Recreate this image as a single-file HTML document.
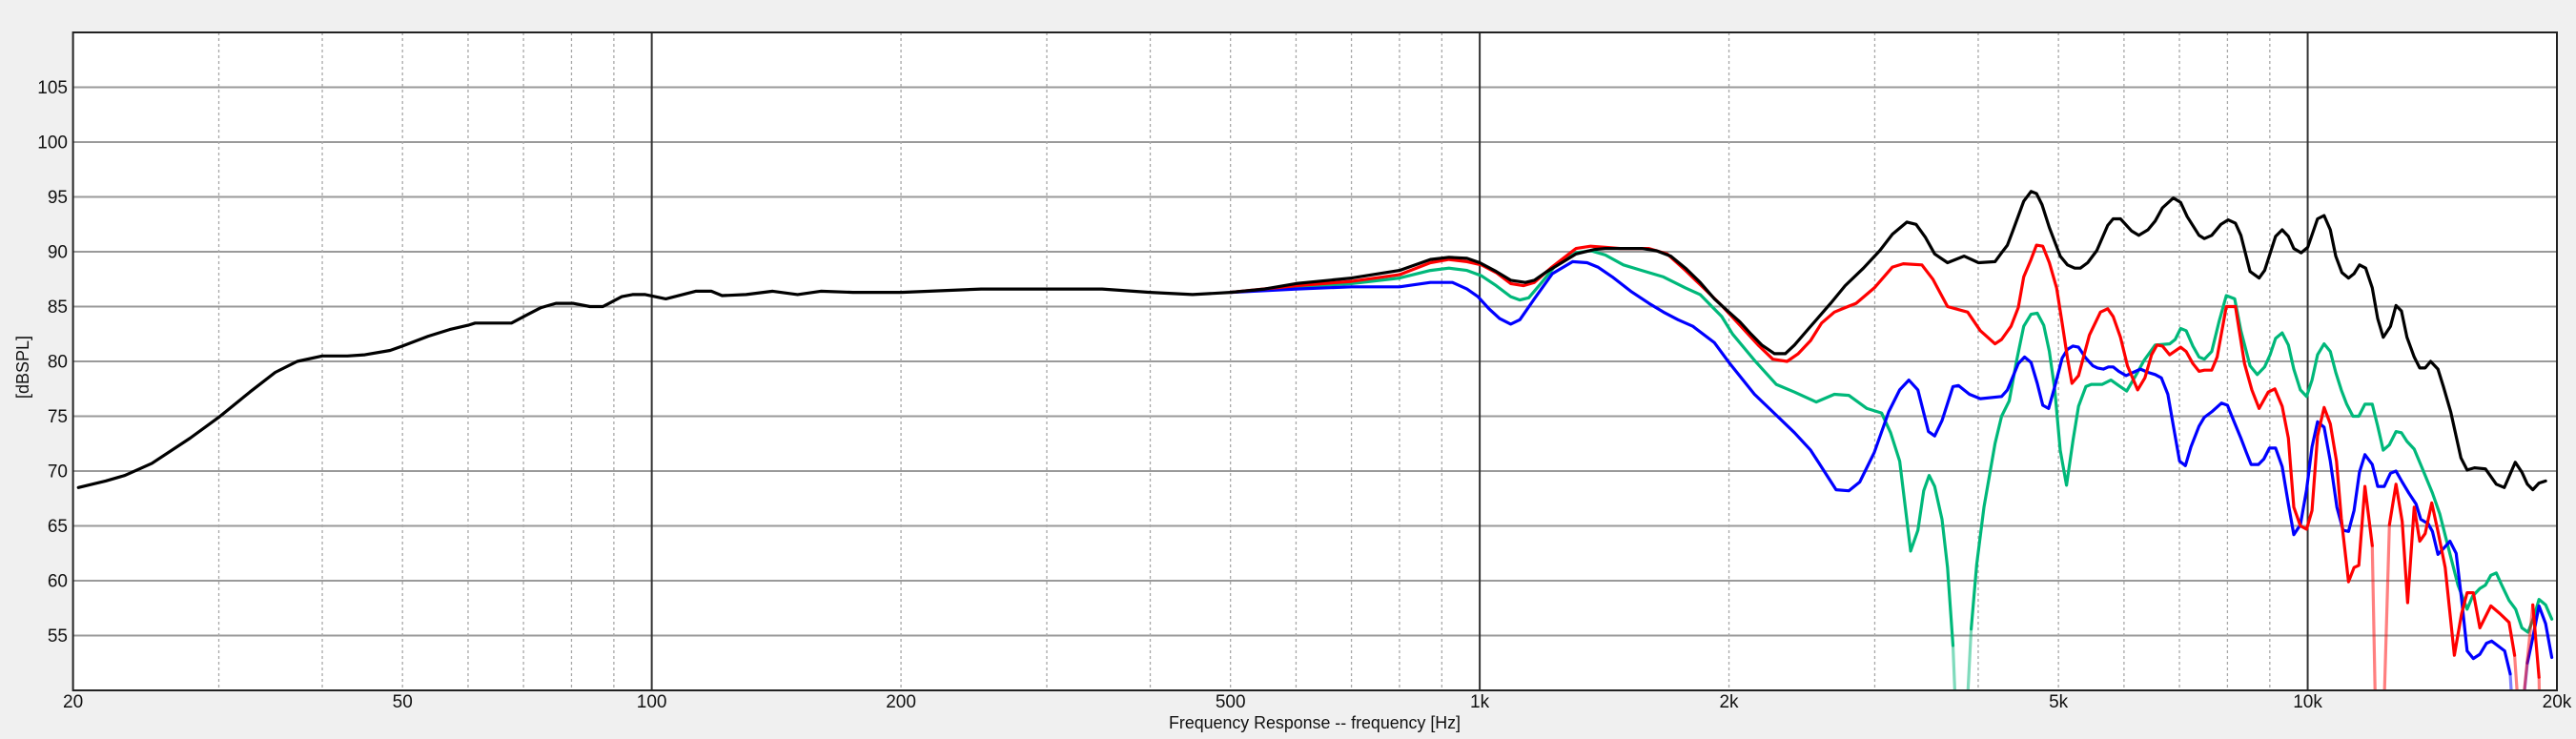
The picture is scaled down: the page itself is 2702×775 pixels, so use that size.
<!DOCTYPE html>
<html><head><meta charset="utf-8"><style>
html,body{margin:0;padding:0;background:#f0f0f0;}
svg{display:block;font-family:"Liberation Sans",Arial,sans-serif;}
</style></head><body>
<svg id="chart" width="2702" height="775" viewBox="0 0 2702 775" xmlns="http://www.w3.org/2000/svg">
<defs><clipPath id="plotclip"><rect x="76.6" y="34" width="2605.4" height="690"/></clipPath></defs>
<rect x="76.6" y="34" width="2605.4" height="690" fill="#ffffff"/>
<g id="grid"></g>
<g id="series" clip-path="url(#plotclip)"></g>
<rect x="76.6" y="34" width="2605.4" height="690" fill="none" stroke="#222" stroke-width="2"/>
<g id="labels"></g>
<text x="1379" y="764" font-size="18" text-anchor="middle" textLength="306" lengthAdjust="spacingAndGlyphs" fill="#111">Frequency Response -- frequency [Hz]</text>
<text x="0" y="0" font-size="18" text-anchor="middle" fill="#111" transform="translate(30,385) rotate(-90)">[dBSPL]</text>
</svg>
<script>
const yTicks = [55,60,65,70,75,80,85,90,95,100,105];
const xTickValues = [20,50,100,200,500,1000,2000,5000,10000,20000];
const xTickLabels = ["20","50","100","200","500","1k","2k","5k","10k","20k"];
const majorFreqs = [100,1000,10000];
const minorFreqs = [30,40,50,60,70,80,90,200,300,400,500,600,700,800,900,2000,3000,4000,5000,6000,7000,8000,9000];

const blackFreq = [20.3,21.9,23.1,24.9,27.7,30,32.7,35.1,37.3,40,42.9,45,48.3,50,53.7,57,60,61.2,67.7,70.5,73.5,76.6,80.3,84.2,87.3,92,94.8,98.2,104,113,118,121.6,130,140,150,160,175,200,250,300,350,400,450,500,550,600,700,800,872,918,965,1000,1047,1090,1135,1164,1206,1256,1307,1375,1418,1477,1569,1634,1701,1772,1846,1921,2000,2062,2126,2191,2270,2339,2400,2497,2654,2763,2907,3042,3151,3281,3365,3455,3544,3673,3845,4003,4191,4269,4338,4404,4540,4633,4704,4777,4875,5025,5127,5231,5314,5423,5562,5734,5822,5942,6125,6251,6413,6543,6677,6883,7024,7154,7392,7503,7657,7854,8015,8180,8305,8518,8737,8871,9145,9314,9476,9621,9819,10000,10277,10467,10649,10812,11001,11204,11375,11550,11750,11967,12150,12337,12590,12783,12979,13178,13448,13655,13865,14077,14366,14586,14885,15313,15581,15900,16392,16898,17278,17813,18141,18421,18703,19028,19380];
const blackDb = [68.5,69.1,69.6,70.7,73,74.9,77.2,79,80,80.5,80.5,80.6,81,81.4,82.3,82.9,83.3,83.5,83.5,84.2,84.9,85.3,85.3,85,85,85.9,86.1,86.1,85.7,86.4,86.4,86,86.1,86.4,86.1,86.4,86.3,86.3,86.6,86.6,86.6,86.3,86.1,86.3,86.6,87.1,87.6,88.3,89.3,89.5,89.4,89,88.2,87.4,87.2,87.4,88.2,89,89.8,90.2,90.3,90.3,90.3,90.1,89.6,88.5,87.2,85.7,84.5,83.6,82.5,81.5,80.7,80.7,81.5,83,85.3,86.9,88.5,90.1,91.6,92.7,92.5,91.3,89.8,89,89.6,89,89.1,89.9,90.6,91.9,94.6,95.5,95.3,94.3,92.2,89.6,88.8,88.5,88.5,89,90.1,92.4,93,93,91.9,91.5,92,92.8,94,94.9,94.5,93.2,91.5,91.2,91.5,92.5,92.9,92.6,91.5,88.2,87.6,88.3,91.4,92,91.4,90.3,89.9,90.4,93,93.3,92,89.6,88.1,87.6,88,88.8,88.5,86.7,83.9,82.2,83.2,85.1,84.6,82.2,80.4,79.4,79.4,80,79.3,77.7,75.4,71.2,70.1,70.3,70.2,68.8,68.5,70.8,69.9,68.8,68.3,68.9,69.1];

const redFreq = [500,600,700,800,872,918,965,1005,1047,1090,1129,1164,1218,1307,1361,1418,1477,1601,1684,1772,1846,1960,2062,2169,2259,2351,2425,2510,2588,2681,2763,2848,2996,3151,3248,3420,3526,3673,3884,4024,4191,4269,4382,4472,4540,4633,4704,4787,4875,4975,5051,5127,5191,5287,5450,5620,5734,5822,5942,6057,6232,6359,6478,6576,6677,6813,7024,7132,7265,7392,7503,7657,7775,7975,8180,8389,8561,8737,8962,9127,9314,9476,9621,9799,9970,10122,10277,10467,10649,10834,10979,11204,11375,11527,11726,11967,12089,12337,12552,12783,13005,13205,13448,13655,13865,14120,14366,14660,15036,15344,15581,15852,16145,16643,17069,17509,17777,18050,18703,19028,19086];
const redDb = [86.3,86.9,87.3,87.9,89,89.3,89.1,88.8,88.1,87.1,86.9,87.2,88.5,90.3,90.5,90.4,90.3,90.3,89.8,88.3,87,85.1,83.3,81.5,80.2,80,80.7,81.9,83.5,84.5,84.9,85.3,86.7,88.6,88.9,88.8,87.5,85,84.5,82.8,81.6,82,83.2,84.9,87.7,89.3,90.6,90.5,89,86.7,83.5,80.3,78,78.7,82.4,84.5,84.8,84.1,82.2,79.6,77.4,78.5,80.6,81.5,81.4,80.6,81.3,80.9,79.8,79.1,79.2,79.2,80.4,85,85,79.8,77.4,75.7,77.2,77.5,75.9,73,66.7,65,64.7,66.4,73.2,75.8,74.3,70.9,65.7,59.9,61.2,61.4,68.6,63.2,46,46,65.1,68.8,65.4,58,66.7,63.6,64.3,67.1,64.5,61.2,53.2,57,58.9,58.9,55.7,57.7,57,56.2,53.2,46,57.8,51.2,46];

const greenFreq = [500,600,700,800,872,918,965,1005,1047,1090,1118,1146,1182,1230,1307,1361,1418,1491,1569,1667,1772,1846,1960,2020,2147,2281,2400,2549,2681,2791,2936,3057,3135,3215,3315,3382,3437,3490,3544,3617,3673,3729,3767,3864,3923,3983,4065,4191,4269,4360,4449,4540,4633,4714,4800,4875,4950,5025,5113,5207,5287,5396,5478,5648,5786,5911,6045,6188,6346,6543,6813,6918,7024,7132,7265,7392,7503,7657,7814,7975,8163,8305,8518,8693,8871,9007,9145,9314,9476,9621,9799,9970,10122,10277,10467,10649,10812,10979,11147,11341,11527,11726,11967,12150,12337,12552,12783,12979,13178,13448,13725,14148,14439,14734,15189,15581,15820,16145,16392,16643,16898,17156,17509,17831,18141,18458,18760,19028,19380,19716];
const greenDb = [86.3,86.8,87.1,87.6,88.3,88.5,88.3,87.8,86.9,85.9,85.6,85.8,87,88.6,89.9,90.1,89.7,88.8,88.3,87.7,86.7,86.1,84.1,82.5,80.1,77.9,77.2,76.3,77,76.9,75.7,75.3,73.5,70.9,62.7,64.6,68.2,69.6,68.6,65.6,61.2,54.1,46,46,55.6,61.5,66.7,72.5,75,76.4,80,83.2,84.3,84.4,83.3,80.9,77.4,71.9,68.7,72.8,75.9,77.7,77.9,77.9,78.3,77.8,77.3,78.6,80.1,81.5,81.6,82,83,82.8,81.4,80.4,80.2,80.9,83.6,86,85.7,82.8,79.6,78.8,79.5,80.6,82.1,82.6,81.5,79.3,77.4,76.8,78.3,80.6,81.6,80.9,79,77.4,76.1,75,75,76.1,76.1,74.1,71.9,72.4,73.6,73.5,72.7,72,70.4,68,66.1,63.5,59.6,57.4,58.6,59.3,59.6,60.5,60.7,59.6,58.2,57.4,55.7,55.3,56.7,58.3,57.8,56.5];

const blueFreq = [500,600,700,800,872,927,965,995,1026,1057,1090,1118,1164,1224,1295,1348,1389,1446,1522,1601,1667,1736,1809,1921,2000,2147,2259,2400,2510,2601,2694,2791,2877,2996,3119,3215,3298,3382,3483,3544,3617,3729,3786,3904,4024,4269,4338,4404,4472,4550,4633,4714,4787,4865,4950,5051,5127,5207,5287,5396,5502,5573,5665,5746,5822,5912,6033,6157,6282,6413,6543,6657,6779,6883,7003,7118,7228,7392,7503,7657,7870,7999,8138,8305,8432,8544,8720,8853,8989,9145,9314,9476,9621,9799,9970,10122,10277,10467,10649,10845,11034,11204,11375,11550,11726,11967,12150,12375,12590,12783,13005,13245,13517,13697,13977,14148,14366,14616,14853,15112,15344,15581,15852,16145,16442,16677,16950,17296,17562,17741,18050,18421,18703,19028,19380,19716];
const blueDb = [86.3,86.6,86.8,86.8,87.2,87.2,86.6,85.9,84.8,83.9,83.4,83.8,85.7,88,89.1,89,88.6,87.7,86.4,85.3,84.5,83.8,83.2,81.7,79.9,77,75.4,73.5,71.9,70.1,68.3,68.2,69,71.7,75.4,77.4,78.3,77.4,73.6,73.2,74.6,77.7,77.8,77,76.6,76.8,77.4,78.6,79.8,80.4,79.9,78,76,75.7,77.7,80.3,81.1,81.4,81.3,80.3,79.6,79.4,79.3,79.5,79.5,79.1,78.7,79,79.3,79,78.8,78.5,77,74.1,70.9,70.5,72.2,74.1,74.9,75.4,76.2,76,74.6,73,71.7,70.6,70.6,71.1,72.1,72.1,70.4,67,64.2,65.1,68.3,72.2,74.5,74,70.9,66.7,64.6,64.5,66.4,69.9,71.5,70.6,68.6,68.6,69.8,70,69,68,67,65.6,65.2,64.5,62.4,63,63.6,62.5,58.3,53.6,52.9,53.3,54.3,54.5,54.1,53.6,51.5,46,46,52.5,54.8,57.7,56.1,53];

const X0 = 76.6, X1 = 2682, Y0 = 34, Y1 = 724;
const F0 = 20, F1 = 20000, DB0 = 50, DB1 = 110;
function xScale(f){ return X0 + (Math.log10(f) - Math.log10(F0)) / (Math.log10(F1) - Math.log10(F0)) * (X1 - X0); }
function yScale(d){ return Y1 - (d - DB0) / (DB1 - DB0) * (Y1 - Y0); }
const NS = "http://www.w3.org/2000/svg";
function mk(tag, attrs){ const e = document.createElementNS(NS, tag); for (const k in attrs) e.setAttribute(k, attrs[k]); return e; }

const grid = document.getElementById('grid');
const labels = document.getElementById('labels');
yTicks.forEach(function(t){
  const y = yScale(t);
  const ln = mk('line', {x1:X0, x2:X1, y1:y, y2:y, stroke:'#9a9a9a', 'stroke-width':2});
  
  
  grid.appendChild(ln);
  const tx = mk('text', {x:71, y:y+6.5, 'font-size':19, 'text-anchor':'end', fill:'#111'});
  tx.textContent = String(t);
  
  
  labels.appendChild(tx);
});
minorFreqs.forEach(function(f){
  const x = xScale(f);
  const ln = mk('line', {x1:x, x2:x, y1:Y0, y2:Y1, stroke:'#a8a8a8', 'stroke-width':1.3, 'stroke-dasharray':'3,3'});
  
  
  grid.appendChild(ln);
});
majorFreqs.forEach(function(f){
  const x = xScale(f);
  const ln = mk('line', {x1:x, x2:x, y1:Y0, y2:Y1, stroke:'#333', 'stroke-width':2});
  
  
  grid.appendChild(ln);
});
xTickValues.forEach(function(f, i){
  const tx = mk('text', {x:xScale(f), y:742, 'font-size':19, 'text-anchor':'middle', fill:'#111'});
  tx.textContent = xTickLabels[i];
  
  
  labels.appendChild(tx);
});

const seriesG = document.getElementById('series');
function drawSeries(name, freqs, dbs, color){
  let main = '', faded = '';
  let lastMainEnd = -1;
  for (let i = 0; i < freqs.length - 1; i++){
    const xa = xScale(freqs[i]).toFixed(1), ya = yScale(dbs[i]).toFixed(1);
    const xb = xScale(freqs[i+1]).toFixed(1), yb = yScale(dbs[i+1]).toFixed(1);
    if (Math.min(dbs[i], dbs[i+1]) < DB0){
      faded += 'M' + xa + ',' + ya + 'L' + xb + ',' + yb;
    } else {
      if (lastMainEnd !== i) main += 'M' + xa + ',' + ya;
      main += 'L' + xb + ',' + yb;
      lastMainEnd = i + 1;
    }
  }
  const pf = mk('path', {d:faded, fill:'none', stroke:color, 'stroke-width':3.2, 'stroke-opacity':0.5, 'stroke-linejoin':'round'});
  
  
  seriesG.appendChild(pf);
  const pm = mk('path', {d:main, fill:'none', stroke:color, 'stroke-width':3.2, 'stroke-linejoin':'round', 'stroke-linecap':'round'});
  
  
  seriesG.appendChild(pm);
}
drawSeries('green-response-line', greenFreq, greenDb, '#00b87a');
drawSeries('blue-response-line', blueFreq, blueDb, '#0000ff');
drawSeries('red-response-line', redFreq, redDb, '#ff0000');
drawSeries('black-response-line', blackFreq, blackDb, '#000000');
</script>
</body></html>
